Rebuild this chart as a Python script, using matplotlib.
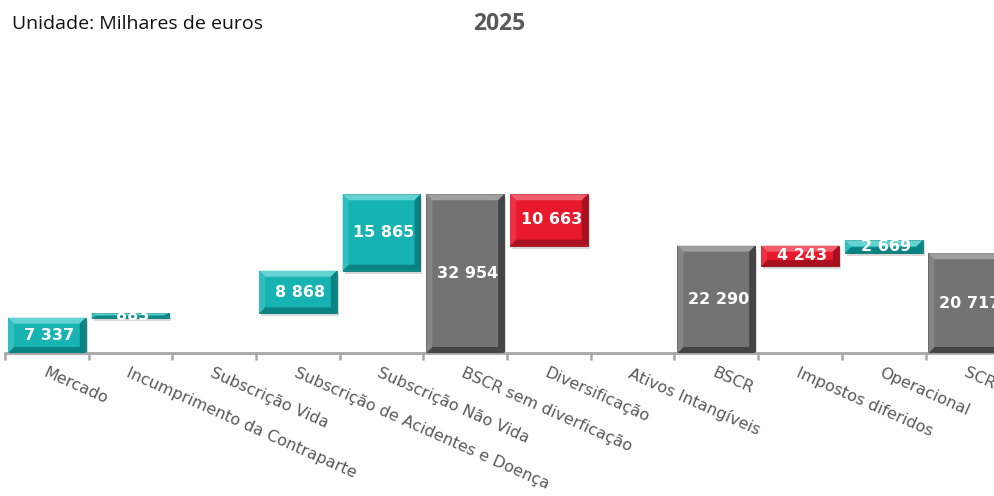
"""Waterfall of the 2025 solvency capital requirement build-up"""

import matplotlib
matplotlib.use("Agg")
import matplotlib.pyplot as plt
from matplotlib.patches import Polygon, Rectangle

categories = ["Mercado", "Incumprimento da Contraparte", "Subscrição Vida",
              "Subscrição de Acidentes e Doença", "Subscrição Não Vida",
              "BSCR sem diverficação", "Diversificação", "Ativos Intangíveis",
              "BSCR", "Impostos diferidos", "Operacional", "SCR"]
values = [7337, 883, 0, 8868, 15865, 32954, 10663, 0, 22290, 4243, 2669, 20717]
# level (thousand euros) where each floating bar starts
bases = [0, 7337, 8220, 8220, 17088, 0, 22291, 22291, 0, 18047, 20717, 0]
kinds = ["up", "up", "up", "up", "up", "total", "down", "down",
         "total", "down", "up", "total"]

palette = {
    "up":    dict(face="#17b3b3", light="#66d3d3", side="#30bebe", dark="#0b8282", edge="#0c6f6f"),
    "down":  dict(face="#e8192c", light="#f25e6d", side="#ec3143", dark="#a8101f", edge="#8e0d19"),
    "total": dict(face="#737373", light="#9f9f9f", side="#858585", dark="#444444", edge="#3a3a3a"),
}

W, H = 995, 496
XMAX = 11.33
YMAX = 60830
fig = plt.figure(figsize=(W / 100, H / 100), dpi=100)
ax = fig.add_axes([5 / W, 143 / H, 1 - 5 / W, 293 / H])

# data units per pixel, used for bevel and shadow sizes
ux = (XMAX + 0.5) / (W - 5)
uy = YMAX / 293

bar_w = 0.93
for i, (v, b, k) in enumerate(zip(values, bases, kinds)):
    if v == 0:
        continue
    p = palette[k]
    x0, x1 = i - bar_w / 2, i + bar_w / 2
    y0, y1 = b, b + v
    # soft drop shadow
    ax.add_patch(Rectangle((x0 + 2 * ux, y0 - 3 * uy), bar_w, v,
                           facecolor="#000000", alpha=0.15, lw=0, zorder=1))
    ax.bar(i, v, bottom=b, width=bar_w, color=p["face"], edgecolor=p["edge"],
           linewidth=0.6, zorder=2)
    bx = min(6 * ux, bar_w / 2)
    by = min(6 * uy, v / 2)
    facets = [
        ([(x0, y1), (x1, y1), (x1 - bx, y1 - by), (x0 + bx, y1 - by)], p["light"]),
        ([(x0, y0), (x1, y0), (x1 - bx, y0 + by), (x0 + bx, y0 + by)], p["dark"]),
        ([(x0, y0), (x0, y1), (x0 + bx, y1 - by), (x0 + bx, y0 + by)], p["side"]),
        ([(x1, y0), (x1, y1), (x1 - bx, y1 - by), (x1 - bx, y0 + by)], p["dark"]),
    ]
    for pts, c in facets:
        ax.add_patch(Polygon(pts, closed=True, facecolor=c, lw=0, zorder=3))
    ax.text(i + 0.03, b + v / 2, f"{v:,}".replace(",", " "), ha="center", va="center",
            color="white", fontsize=11.5, fontweight="bold", zorder=4)

for s in ["top", "left", "right"]:
    ax.spines[s].set_visible(False)
ax.spines["bottom"].set_color("#a6a6a6")
ax.spines["bottom"].set_linewidth(2)
ax.set_yticks([])
ax.set_xticks(range(len(categories)))
ax.set_xticklabels(categories, rotation=-24, ha="left", va="top",
                   rotation_mode="anchor", fontsize=11.5, color="#595959")
ax.tick_params(axis="x", which="major", length=0, pad=9)
ax.set_xticks([i - 0.5 for i in range(len(categories) + 1)], minor=True)
ax.tick_params(axis="x", which="minor", length=5, width=1.8, color="#a6a6a6")
# limits last, so the tick positions do not widen the view
ax.set_xlim(-0.5, XMAX)
ax.set_ylim(0, YMAX)

fig.text(12 / W, 1 - 24 / H, "Unidade: Milhares de euros", ha="left", va="center",
         fontsize=14, family="Open Sans", color="#111111")
fig.text(499 / W, 1 - 24 / H, "2025", ha="center", va="center",
         fontsize=16.5, family="Open Sans", fontweight="bold", color="#595959")

fig.savefig("out.png", dpi=100)
